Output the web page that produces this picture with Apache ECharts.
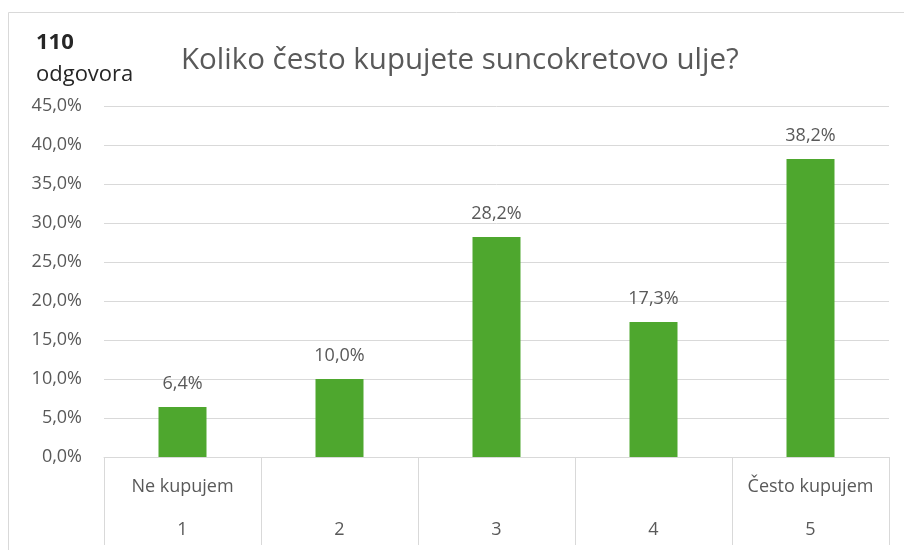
<!DOCTYPE html>
<html>
<head>
<meta charset="utf-8">
<script src="https://cdn.jsdelivr.net/npm/echarts@6/dist/echarts.min.js"></script>
<style>
  html, body { margin: 0; padding: 0; background: #fff; }
  #chart { width: 904px; height: 550px; }
</style>
</head>
<body>
<div id="chart"></div>
<script>
// podaci
var scaleLabels = ['1', '2', '3', '4', '5'];
var anchorLabels = ['Ne kupujem', '', '', '', 'Često kupujem'];
var shares = [6.4, 10.0, 28.2, 17.3, 38.2];
var responses = '110';

function pct(v) {
  return v.toFixed(1).replace('.', ',') + '%';
}

var chart = echarts.init(document.getElementById('chart'));
var font = '"Open Sans", "Noto Sans", sans-serif';

var option = {
  animation: false,
  textStyle: { fontFamily: font },
  graphic: [
    {
      type: 'rect',
      shape: { x: 8.5, y: 12.5, width: 900, height: 545 },
      style: { fill: 'none', stroke: '#d9d9d9', lineWidth: 1 }
    },
    {
      type: 'text', left: 36, top: 32,
      style: { text: responses, fontSize: 22, fontWeight: 'bold', fill: '#262626', fontFamily: font }
    },
    {
      type: 'text', left: 36, top: 64,
      style: { text: 'odgovora', fontSize: 22, fill: '#262626', fontFamily: font }
    }
  ],
  title: {
    text: 'Koliko često kupujete suncokretovo ulje?',
    left: 176,
    top: 41,
    textStyle: { fontSize: 29.5, fontWeight: 'normal', color: '#595959', fontFamily: font }
  },
  grid: { left: 104, right: 15, top: 106, bottom: 93 },
  xAxis: [
    {
      type: 'category',
      data: anchorLabels,
      axisLine: { lineStyle: { color: '#d9d9d9' } },
      axisTick: { show: true, length: 88, lineStyle: { color: '#d9d9d9' } },
      axisLabel: { color: '#595959', fontSize: 18, margin: 21, interval: 0 }
    },
    {
      type: 'category',
      position: 'bottom',
      data: scaleLabels,
      axisLine: { show: false },
      axisTick: { show: false },
      axisLabel: { color: '#595959', fontSize: 18, margin: 64, interval: 0 }
    }
  ],
  yAxis: {
    type: 'value',
    min: 0,
    max: 45,
    interval: 5,
    axisLine: { show: false },
    axisTick: { show: false },
    splitLine: { lineStyle: { color: '#d9d9d9' } },
    axisLabel: {
      color: '#595959', fontSize: 18, margin: 22,
      formatter: function (v) { return pct(v); }
    }
  },
  series: [
    {
      type: 'bar',
      data: shares,
      barWidth: 48,
      itemStyle: { color: '#4ea72e' },
      label: {
        show: true,
        position: 'top',
        distance: 14,
        color: '#595959',
        fontSize: 18,
        formatter: function (p) { return pct(p.value); }
      }
    }
  ]
};

chart.setOption(option);
</script>
</body>
</html>
